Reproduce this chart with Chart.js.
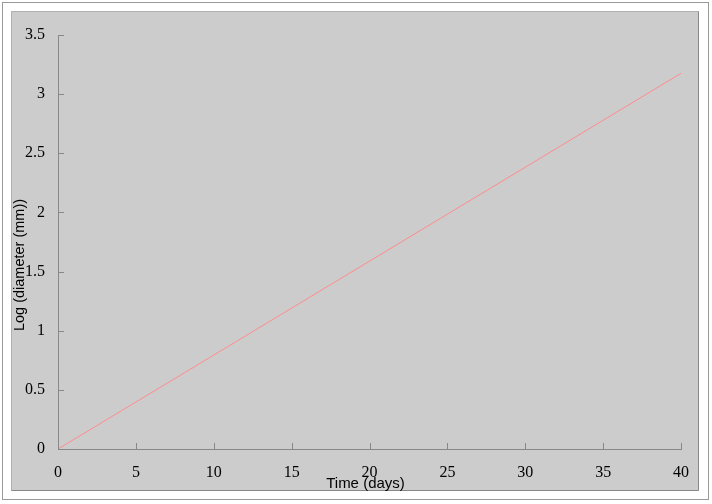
<!DOCTYPE html>
<html>
<head>
<meta charset="utf-8">
<script src="https://cdn.jsdelivr.net/npm/chart.js@4/dist/chart.umd.min.js"></script>
<style>
html,body{margin:0;padding:0;background:#fff;}
#wrap{width:712px;height:504px;position:relative;}
</style>
</head>
<body>
<div id="wrap"><canvas id="c" width="712" height="504"></canvas></div>
<script>
const days = [0, 5, 10, 15, 20, 25, 30, 35, 40];
const logDiameter = [0, 0.397, 0.794, 1.191, 1.588, 1.985, 2.382, 2.779, 3.176];
const xTitle = 'Time (days)';
const yTitle = 'Log (diameter (mm))';
const xTicks = [0, 5, 10, 15, 20, 25, 30, 35, 40];
const yTicks = [0, 0.5, 1, 1.5, 2, 2.5, 3, 3.5];

const frame = {
  id: 'frame',
  beforeDraw(chart) {
    const ctx = chart.ctx;
    ctx.save();
    ctx.fillStyle = '#ffffff';
    ctx.fillRect(0, 0, 712, 504);
    ctx.strokeStyle = '#999999';
    ctx.lineWidth = 1;
    ctx.strokeRect(2.5, 2.5, 706, 497);
    ctx.fillStyle = '#cccccc';
    ctx.fillRect(11, 11, 688, 480);
    ctx.strokeStyle = '#b0b0b0';
    ctx.beginPath();
    ctx.moveTo(11.5, 490.5); ctx.lineTo(11.5, 11.5); ctx.lineTo(698.5, 11.5);
    ctx.stroke();
    ctx.strokeStyle = '#888888';
    ctx.beginPath();
    ctx.moveTo(698.5, 11.5); ctx.lineTo(698.5, 490.5); ctx.lineTo(11.5, 490.5);
    ctx.stroke();
    ctx.restore();
  },
  afterDraw(chart) {
    const ctx = chart.ctx;
    const xs = chart.scales.x, ys = chart.scales.y;
    ctx.save();
    ctx.strokeStyle = '#888888';
    ctx.lineWidth = 1;
    ctx.beginPath();
    xTicks.forEach(v => {
      const px = Math.round(xs.getPixelForValue(v)) + 0.5;
      ctx.moveTo(px, ys.bottom); ctx.lineTo(px, ys.bottom - 6);
    });
    yTicks.forEach(v => {
      const py = Math.round(ys.getPixelForValue(v)) + 0.5;
      ctx.moveTo(xs.left, py); ctx.lineTo(xs.left + 6, py);
    });
    ctx.stroke();
    ctx.fillStyle = '#000000';
    ctx.font = '15px "Liberation Sans", Arial, sans-serif';
    ctx.textAlign = 'center';
    ctx.textBaseline = 'alphabetic';
    ctx.fillText(xTitle, 365.5, 488);
    ctx.translate(24, 265);
    ctx.rotate(-Math.PI / 2);
    ctx.font = '14.5px "Liberation Sans", Arial, sans-serif';
    ctx.fillText(yTitle, 0, 0);
    ctx.restore();
  }
};

new Chart(document.getElementById('c'), {
  type: 'line',
  data: {
    labels: days,
    datasets: [{
      data: days.map((d, i) => ({x: d, y: logDiameter[i]})),
      borderColor: '#ff8c8c',
      borderWidth: 1,
      pointRadius: 0,
      fill: false,
      tension: 0
    }]
  },
  options: {
    responsive: false,
    animation: false,
    events: [],
    layout: {padding: {left: 0, right: 31, top: 35, bottom: 0}},
    plugins: {legend: {display: false}, tooltip: {enabled: false}},
    scales: {
      x: {
        type: 'linear', min: 0, max: 40,
        afterBuildTicks(s) { s.ticks = xTicks.map(v => ({value: v})); },
        afterFit(s) { s.height = 55; },
        grid: {drawOnChartArea: false, drawTicks: false},
        border: {display: true, color: '#888888', width: 1},
        ticks: {color: '#000', padding: 14, maxRotation: 0,
          callback: v => String(v),
          font: {family: '"Liberation Serif", "Times New Roman", serif', size: 16}}
      },
      y: {
        type: 'linear', min: 0, max: 3.5,
        afterBuildTicks(s) { s.ticks = yTicks.map(v => ({value: v})); },
        afterFit(s) { s.width = 58; },
        grid: {drawOnChartArea: false, drawTicks: false},
        border: {display: true, color: '#888888', width: 1},
        ticks: {color: '#000', padding: 13,
          callback: v => String(v),
          font: {family: '"Liberation Serif", "Times New Roman", serif', size: 16}}
      }
    }
  },
  plugins: [frame]
});
</script>
</body>
</html>
